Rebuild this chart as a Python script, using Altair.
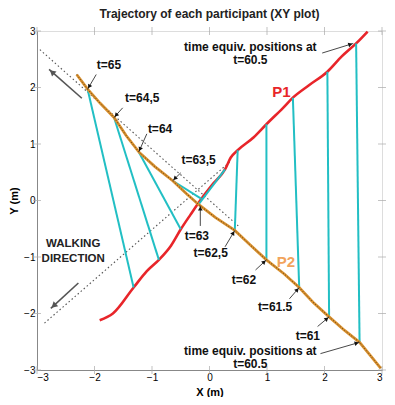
import math
import altair as alt
import pandas as pd

# ---------------- data ----------------
p1_x = [-1.91, -1.68, -1.32, -1.09, -0.88, -0.67, -0.50, -0.33, -0.14, 0.05, 0.27, 0.37, 0.49, 0.77, 0.99, 1.28, 1.45, 1.73, 2.05, 2.30, 2.55, 2.75]
p1_y = [-2.12, -2.00, -1.54, -1.25, -1.05, -0.80, -0.51, -0.25, 0.03, 0.28, 0.55, 0.76, 0.89, 1.12, 1.35, 1.64, 1.82, 2.04, 2.28, 2.55, 2.78, 2.99]

p2_x = [-2.31, -2.12, -1.90, -1.66, -1.45, -1.23, -0.95, -0.64, -0.40, -0.19, 0.10, 0.44, 0.70, 0.99, 1.30, 1.56, 1.80, 2.08, 2.35, 2.61, 2.98]
p2_y = [2.23, 1.97, 1.72, 1.47, 1.15, 0.86, 0.60, 0.35, 0.12, -0.07, -0.30, -0.53, -0.78, -1.05, -1.30, -1.54, -1.80, -2.06, -2.30, -2.51, -2.97]

link_t = ["60.5", "61", "61.5", "62", "62.5", "63", "63.5", "64", "64.5", "65"]
link_p2_x = [2.61, 2.08, 1.56, 0.99, 0.44, -0.19, -0.64, -1.23, -1.66, -2.12]
link_p2_y = [-2.51, -2.06, -1.54, -1.05, -0.53, -0.07, 0.35, 0.86, 1.47, 1.97]
link_p1_x = [2.55, 2.05, 1.45, 0.99, 0.49, 0.27, -0.14, -0.50, -0.88, -1.32]
link_p1_y = [2.78, 2.28, 1.82, 1.35, 0.89, 0.55, 0.03, -0.51, -1.05, -1.54]

guide_x1 = [-2.95, -2.87]
guide_y1 = [2.67, -2.17]
guide_x2 = [0.50, 0.35]
guide_y2 = [-0.45, 0.68]

t_text = ["t=65", "t=64,5", "t=64", "t=63,5", "t=63", "t=62,5", "t=62", "t=61.5", "t=61"]
t_text_x = [-1.75, -1.17, -0.86, -0.19, -0.22, 0.02, 0.60, 1.14, 1.71]
t_text_y = [2.39, 1.81, 1.27, 0.72, -0.62, -0.93, -1.40, -1.88, -2.40]
t_from_x = [-1.97, -1.51, -1.09, -0.50, -0.16, 0.27, 0.80, 1.39, 1.88]
t_from_y = [2.23, 1.64, 1.18, 0.49, -0.45, -0.82, -1.23, -1.74, -2.23]
t_to_x = [-2.12, -1.66, -1.23, -0.64, -0.16, 0.44, 0.99, 1.56, 2.08]
t_to_y = [1.97, 1.47, 0.86, 0.35, -0.09, -0.53, -1.05, -1.54, -2.06]

eq_line1 = ["time equiv. positions at", "time equiv. positions at"]
eq_line2 = ["t=60.5", "t=60.5"]
eq_text_x = [0.71, 0.71]
eq_text_y1 = [2.71, -2.66]
eq_text_y2 = [2.48, -2.89]
eq_from_x = [1.96, 1.93]
eq_from_y = [2.61, -2.71]
eq_to_x = [2.50, 2.61]
eq_to_y = [2.78, -2.51]

walk_from_x = [-2.22, -2.28]
walk_from_y = [1.81, -1.46]
walk_to_x = [-2.79, -2.76]
walk_to_y = [2.32, -1.91]
walk_text = ["WALKING", "DIRECTION"]
walk_text_x = [-2.37, -2.37]
walk_text_y = [-0.77, -1.03]

name_text = ["P1", "P2"]
name_x = [1.25, 1.33]
name_y = [1.92, -1.08]
name_color = ["#e8252a", "#f2a45c"]

ticks = [-3, -2, -1, 0, 1, 2, 3]

# ---------------- layout ----------------
TOTAL_W, TOTAL_H = 379, 389
W, H = 343, 341          # approximate plot area (used only for arrow-head angles)
SX, SY = W / 6.0, H / 6.0
FONT = "Liberation Sans"
RED = "#e8252a"
ORANGE = "#d9902e"
CYAN = "#22bfc4"

xs = alt.Scale(domain=[-3, 3], nice=False, zero=False)
ys = alt.Scale(domain=[-3, 3], nice=False, zero=False)
ax = alt.Axis(values=ticks, format="d", ticks=False, grid=False)


def X(f):
    return alt.X(f, type="quantitative", scale=xs, title="X (m)", axis=ax)


def Y(f):
    return alt.Y(f, type="quantitative", scale=ys, title="Y (m)", axis=ax)


def arrow_df(fx, fy, tx, ty, back_px):
    rows = []
    for a, b, c, d in zip(fx, fy, tx, ty):
        dxp = (c - a) * SX
        dyp = (d - b) * SY
        L = math.hypot(dxp, dyp) or 1.0
        ang = math.degrees(math.atan2(dxp, dyp)) % 360
        hx = c - dxp / L * back_px / SX
        hy = d - dyp / L * back_px / SY
        rows.append(dict(x=a, y=b, x2=c, y2=d, hx=hx, hy=hy, ang=ang))
    return pd.DataFrame(rows)


p1 = pd.DataFrame({"x": p1_x, "y": p1_y, "o": range(len(p1_x))})
p2 = pd.DataFrame({"x": p2_x, "y": p2_y, "o": range(len(p2_x))})
links = pd.DataFrame({"x": link_p2_x, "y": link_p2_y, "x2": link_p1_x, "y2": link_p1_y, "t": link_t})
guides = pd.DataFrame({"x": guide_x1, "y": guide_y1, "x2": guide_x2, "y2": guide_y2})

tick_df = pd.DataFrame({"v": ticks})
ticks_b = alt.Chart(tick_df).mark_tick(color="#aaa", thickness=1, size=8, orient="vertical").encode(
    x=X("v"), y=alt.value("height"))
ticks_t = alt.Chart(tick_df).mark_tick(color="#aaa", thickness=1, size=8, orient="vertical").encode(
    x=X("v"), y=alt.value(0))
ticks_l = alt.Chart(tick_df).mark_tick(color="#aaa", thickness=1, size=8, orient="horizontal").encode(
    y=Y("v"), x=alt.value(0))
ticks_r = alt.Chart(tick_df).mark_tick(color="#aaa", thickness=1, size=8, orient="horizontal").encode(
    y=Y("v"), x=alt.value("width"))

guide_layer = alt.Chart(guides).mark_rule(color="#555", strokeWidth=1.1, strokeDash=[1.5, 2.5]).encode(
    x=X("x"), y=Y("y"), x2="x2", y2="y2")

p1_layer = alt.Chart(p1).mark_line(color=RED, strokeWidth=2.6, interpolate="monotone").encode(
    x=X("x"), y=Y("y"), order="o:Q")

link_layer = alt.Chart(links).mark_rule(color=CYAN, strokeWidth=2).encode(
    x=X("x"), y=Y("y"), x2="x2", y2="y2")

p2_layer = alt.Chart(p2).mark_line(color=ORANGE, strokeWidth=2.8).encode(
    x=X("x"), y=Y("y"), order="o:Q")
p2_dots = alt.Chart(p2).mark_line(color="#3a2a10", strokeWidth=1, strokeDash=[1, 2], opacity=0.8).encode(
    x=X("x"), y=Y("y"), order="o:Q")

t_arrows = arrow_df(t_from_x, t_from_y, t_to_x, t_to_y, 3)
eq_arrows = arrow_df(eq_from_x, eq_from_y, eq_to_x, eq_to_y, 3)
walk_arrows = arrow_df(walk_from_x, walk_from_y, walk_to_x, walk_to_y, 4)
small_arrows = pd.concat([t_arrows, eq_arrows], ignore_index=True)

small_lines = alt.Chart(small_arrows).mark_rule(color="#333", strokeWidth=0.9).encode(
    x=X("x"), y=Y("y"), x2="x2", y2="y2")
small_heads = alt.Chart(small_arrows).mark_point(shape="triangle-up", filled=True, color="#111",
                                                   size=22, opacity=1).encode(
    x=X("hx"), y=Y("hy"), angle=alt.Angle("ang:Q", scale=None))

walk_lines = alt.Chart(walk_arrows).mark_rule(color="#555", strokeWidth=1.6).encode(
    x=X("x"), y=Y("y"), x2="x2", y2="y2")
walk_heads = alt.Chart(walk_arrows).mark_point(shape="triangle-up", filled=True, color="#555",
                                                size=45, opacity=1).encode(
    x=X("hx"), y=Y("hy"), angle=alt.Angle("ang:Q", scale=None))

t_labels = alt.Chart(pd.DataFrame({"x": t_text_x, "y": t_text_y, "s": t_text})).mark_text(
    font=FONT, fontSize=12, fontWeight="bold", color="#111").encode(
    x=X("x"), y=Y("y"), text="s:N")

eq_labels1 = alt.Chart(pd.DataFrame({"x": eq_text_x, "y": eq_text_y1, "s": eq_line1})).mark_text(
    font=FONT, fontSize=12, fontWeight="bold", color="#111").encode(
    x=X("x"), y=Y("y"), text="s:N")
eq_labels2 = alt.Chart(pd.DataFrame({"x": eq_text_x, "y": eq_text_y2, "s": eq_line2})).mark_text(
    font=FONT, fontSize=12, fontWeight="bold", color="#111").encode(
    x=X("x"), y=Y("y"), text="s:N")

walk_labels = alt.Chart(pd.DataFrame({"x": walk_text_x, "y": walk_text_y, "s": walk_text})).mark_text(
    font=FONT, fontSize=11.5, fontWeight="bold", color="#222").encode(
    x=X("x"), y=Y("y"), text="s:N")

name_labels = alt.Chart(pd.DataFrame({"x": name_x, "y": name_y, "s": name_text, "c": name_color})).mark_text(
    font=FONT, fontSize=15, fontWeight="bold").encode(
    x=X("x"), y=Y("y"), text="s:N", color=alt.Color("c:N", scale=None))

chart = alt.layer(
    ticks_b, ticks_t, ticks_l, ticks_r,
    guide_layer, p1_layer, link_layer, p2_layer, p2_dots,
    walk_lines, walk_heads, small_lines, small_heads,
    t_labels, eq_labels1, eq_labels2, walk_labels, name_labels,
).properties(
    width=TOTAL_W, height=TOTAL_H,
    autosize=alt.AutoSizeParams(type="fit", contains="padding"),
    padding={"left": 0, "top": 0, "right": 0, "bottom": 0},
    title=alt.TitleParams("Trajectory of each participant (XY plot)", font=FONT, fontSize=12,
                          fontWeight="bold", color="#222", offset=5, anchor="middle"),
).configure_view(stroke="#bbb", strokeWidth=1).configure_axis(
    labelFontSize=10, labelColor="#444", labelFont=FONT, titleFont=FONT, titleFontSize=12,
    titleFontWeight="bold", titleColor="#222", labelPadding=3, titlePadding=2, domainColor="#bbb",
).configure(background="white")

chart.save("out.html", embed_options={"renderer": "svg", "actions": False})
